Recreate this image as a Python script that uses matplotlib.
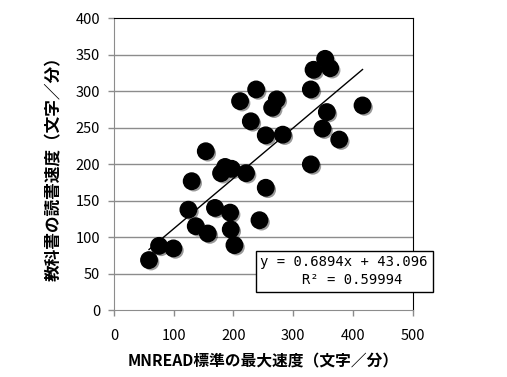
import numpy as np
import matplotlib
matplotlib.use("Agg")
import matplotlib.pyplot as plt
import matplotlib.patheffects as pe

plt.rcParams['font.family'] = ['Noto Sans CJK JP', 'DejaVu Sans']

# MNREAD max reading speed (x) vs textbook reading speed (y), chars/min
mnread = [58.6, 75.4, 99.4, 130, 124.5, 136.8, 157, 169, 194.3, 195.4, 201.6,
          179.2, 197, 186, 221, 254, 243.5, 329.5, 153.6, 229, 211, 237.9,
          254, 282.5, 264.7, 272.5, 329.5, 334, 353.4, 361.8, 356.3, 349,
          377, 416]
textbook = [69, 88.5, 85, 177, 138, 115.4, 105.4, 140.4, 134, 111, 89.5,
            188, 194, 196.5, 188, 168, 123.6, 200, 218, 259, 286.6, 302.6,
            239.8, 240.7, 277.6, 289, 302.6, 329.5, 344.5, 331.7, 271.6, 249,
            234, 280.7]

slope = 0.6894
intercept = 43.096
r2 = 0.59994

x_ticks = [0, 100, 200, 300, 400, 500]
y_ticks = [0, 50, 100, 150, 200, 250, 300, 350, 400]

fig = plt.figure(figsize=(5.07, 3.77), dpi=100)
ax = fig.add_axes([0.2249, 0.1764, 0.5891, 0.7751])

for y in y_ticks[1:-1]:
    ax.axhline(y, color='#8c8c8c', lw=1.0, zorder=0)

ax.scatter(mnread, textbook, s=140, color='black', zorder=3,
           path_effects=[pe.SimplePatchShadow(offset=(1.5, -1.5), alpha=0.4), pe.Normal()])

xs = np.array([min(mnread), max(mnread)])
ax.plot(xs, slope * xs + intercept, color='black', lw=1.0, zorder=2)

ax.set_xlim(0, 500)
ax.set_ylim(0, 400)
ax.set_xticks(x_ticks)
ax.set_yticks(y_ticks)
ax.tick_params(direction='out', length=4, width=1, color='#8c8c8c',
               labelsize=10.5, pad=6)
ax.tick_params(axis='x', pad=9)

for side in ['left', 'bottom']:
    ax.spines[side].set_color('#8c8c8c')
for side in ['top', 'right']:
    ax.spines[side].set_color('black')

ax.set_xlabel('MNREAD標準の最大速度（文字／分）', fontsize=11.3, fontweight='bold', labelpad=8)
ax.set_ylabel('教科書の読書速度（文字／分）', fontsize=12, fontweight='bold', labelpad=9)

eq = 'y = 0.%dx + %.3f\n     R² = %.5f' % (6894, intercept, r2)
ax.text(245, 54, eq, fontsize=10, family='DejaVu Sans Mono', va='center', ha='left',
        zorder=5, linespacing=1.3, clip_on=False,
        bbox=dict(boxstyle='square,pad=0.35', facecolor='white', edgecolor='black', lw=1))

fig.savefig('out.png', dpi=100)
